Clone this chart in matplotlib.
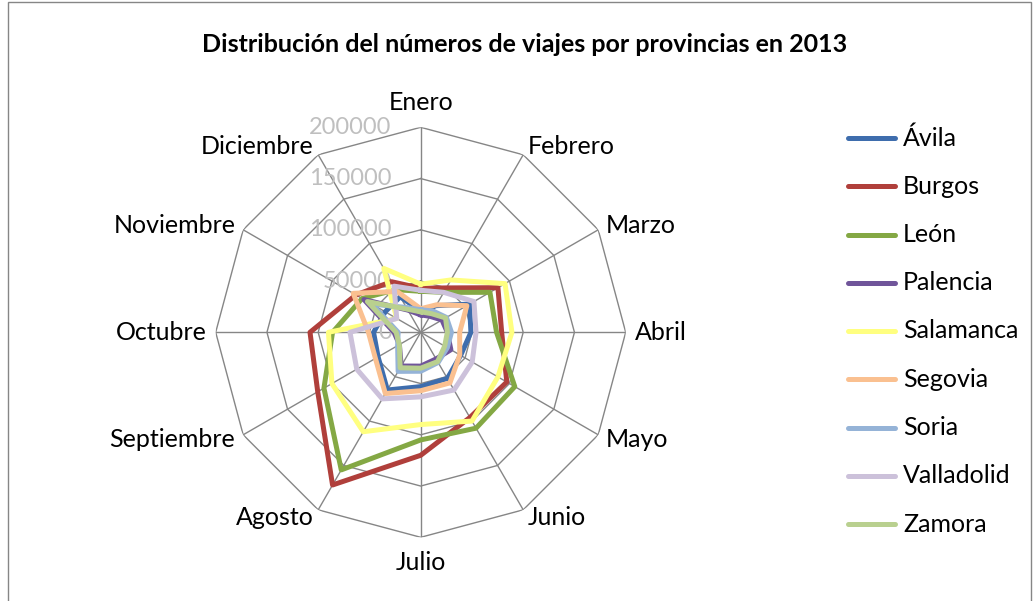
import numpy as np
import matplotlib
matplotlib.use("Agg")
import matplotlib.pyplot as plt
from matplotlib.lines import Line2D
from matplotlib.patches import Rectangle

plt.rcParams['font.family'] = ['Lato', 'DejaVu Sans']

title = "Distribución del números de viajes por provincias en 2013"
months = ["Enero", "Febrero", "Marzo", "Abril", "Mayo", "Junio", "Julio",
          "Agosto", "Septiembre", "Octubre", "Noviembre", "Diciembre"]
provinces = ["Ávila", "Burgos", "León", "Palencia", "Salamanca", "Segovia",
             "Soria", "Valladolid", "Zamora"]
colors = ["#3E6DAD", "#B03F3B", "#84A844", "#70559A", "#FFFF80", "#FAC090",
          "#95B3D7", "#CCC1DA", "#B9D08F"]

avila      = [21000, 30000, 55000, 49000, 45000, 52000, 53000, 65000, 48000, 46000, 40000, 40000]
burgos     = [43000, 50000, 87000, 79000, 97000, 96000, 120000, 172000, 116000, 108000, 73000, 57000]
leon       = [40000, 45000, 78000, 74000, 106000, 108000, 105000, 155000, 109000, 86000, 66000, 48000]
palencia   = [17000, 18000, 24000, 26000, 34000, 30000, 33000, 38000, 24000, 26000, 64000, 25000]
salamanca  = [47000, 59000, 95000, 89000, 87000, 100000, 90000, 112000, 100000, 90000, 27000, 72000]
segovia    = [23000, 31000, 52000, 38000, 44000, 57000, 57000, 69000, 51000, 51000, 76000, 46000]
soria      = [22000, 24000, 29000, 30000, 30000, 34000, 38000, 44000, 26000, 22000, 55000, 28000]
valladolid = [41000, 45000, 60000, 54000, 58000, 65000, 63000, 75000, 72000, 69000, 27000, 52000]
zamora     = [20000, 21000, 28000, 26000, 27000, 33000, 35000, 40000, 24000, 24000, 60000, 26000]

series = [avila, burgos, leon, palencia, salamanca, segovia, soria, valladolid, zamora]
ring_levels = [0, 50000, 100000, 150000, 200000]

W, H = 1036, 601
fig = plt.figure(figsize=(W / 100, H / 100), dpi=100)
fig.patch.set_facecolor("white")

cx, cy, R = 420.7, 332.3, 205.0
ax = fig.add_axes([(cx - R) / W, (H - cy - R) / H, 2 * R / W, 2 * R / H],
                  projection="polar")
ax.set_theta_offset(np.pi / 2)
ax.set_theta_direction(-1)
ax.set_ylim(0, ring_levels[-1])
ax.grid(False)
ax.spines["polar"].set_visible(False)
ax.set_xticks([])
ax.set_yticks([])
ax.patch.set_alpha(0)

n = len(months)
theta = np.arange(n) * 2 * np.pi / n
theta_c = np.append(theta, theta[0])
gridc = "#868686"

for lv in ring_levels[1:]:
    ax.plot(theta_c, [lv] * (n + 1), color=gridc, lw=1.0, zorder=1)
for t in theta:
    ax.plot([t, t], [0, ring_levels[-1]], color=gridc, lw=1.0, zorder=1)

for lv in ring_levels:
    ax.annotate(str(lv), xy=(0, lv), xytext=(-29, 0), textcoords="offset pixels",
                ha="right", va="center", color="#BFBFBF", fontsize=17, zorder=2)

for vals, c in zip(series, colors):
    ax.plot(theta_c, np.append(vals, vals[0]), color=c, lw=3.6,
            solid_joinstyle="round", zorder=3)

for t, m in zip(theta, months):
    s, co = np.sin(t), np.cos(t)
    if abs(s) > 0.1:
        ha = "left" if s > 0 else "right"
        d = 9
    else:
        ha = "center"
        d = 25
    ax.annotate(m, xy=(t, ring_levels[-1]), xytext=(d * s, d * co),
                textcoords="offset pixels", ha=ha, va="center",
                fontsize=18, color="black", annotation_clip=False)

fig.text(525 / W, 1 - 44 / H, title, ha="center", va="center",
         fontsize=18, fontweight="bold")

# legend
y0, dy = 138, 48.25
for i, (name, c) in enumerate(zip(provinces, colors)):
    y = 1 - (y0 + i * dy) / H
    fig.add_artist(Line2D([848 / W, 895 / W], [y, y], color=c, lw=3.6,
                          solid_capstyle="round"))
    fig.text(903 / W, y, name, ha="left", va="center", fontsize=18)

fig.add_artist(Rectangle((8 / W, -0.02), (1031 - 8) / W, 1.0 - 1.5 / H + 0.02,
                         transform=fig.transFigure, fill=False,
                         edgecolor=gridc, lw=1.0))

fig.savefig("out.png", dpi=100)
